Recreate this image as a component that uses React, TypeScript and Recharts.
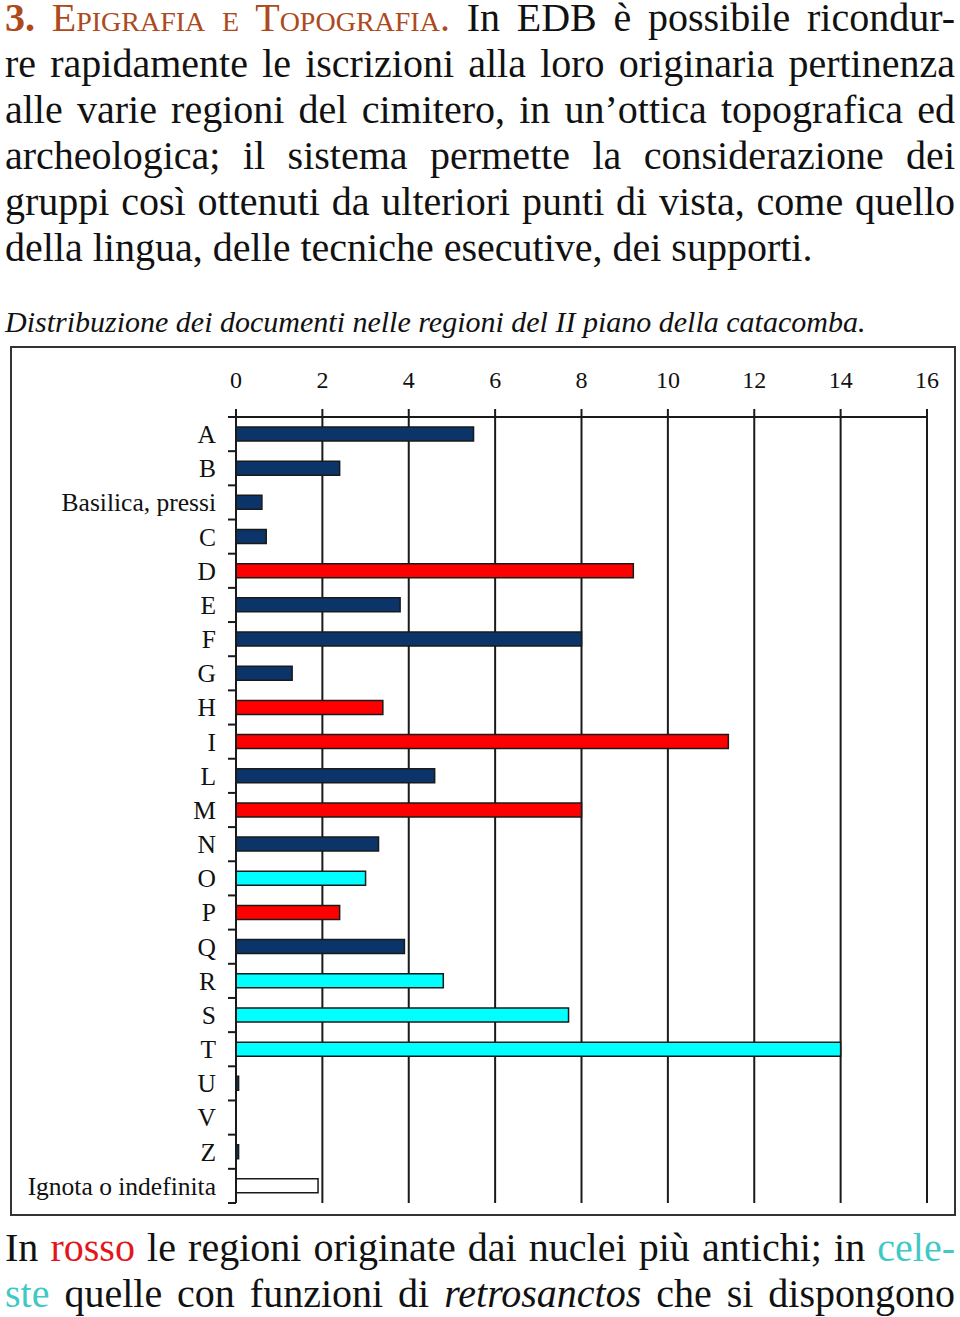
import React from "react";
import { BarChart, Bar, XAxis, YAxis, CartesianGrid, Cell } from "recharts";

// regioni del II piano, dall'alto in basso
const regions = [
  "A", "B", "Basilica, pressi", "C", "D", "E", "F", "G", "H", "I", "L", "M",
  "N", "O", "P", "Q", "R", "S", "T", "U", "V", "Z", "Ignota o indefinita",
];
const documents = [
  5.5, 2.4, 0.6, 0.7, 9.2, 3.8, 8, 1.3, 3.4, 11.4, 4.6, 8,
  3.3, 3.0, 2.4, 3.9, 4.8, 7.7, 14, 0.06, 0, 0.06, 1.9,
];
// n = normale, r = nuclei antichi, c = retrosanctos, x = ignota
const groups = [
  "n", "n", "n", "n", "r", "n", "n", "n", "r", "r", "n", "r",
  "n", "c", "r", "n", "c", "c", "c", "n", "n", "n", "x",
];
const xTicks = [0, 2, 4, 6, 8, 10, 12, 14, 16];

const groupColor: Record<string, string> = {
  n: "#0b3468",
  r: "#ff0000",
  c: "#00ffff",
  x: "#ffffff",
};

const data = regions.map((name, i) => ({ name, value: documents[i], group: groups[i] }));

const serif = "'Liberation Serif', 'Times New Roman', serif";
const ink = "#1a1a1a";

const RegionTick = (props: any) => {
  const { x, y, payload, index } = props;
  const half = payload.offset ?? 17;
  return (
    <g>
      <text x={x} y={y} dy="0.35em" textAnchor="end" fontSize={25.5} fontFamily={serif} fill="#111">
        {payload.value}
      </text>
      {index === 0 && (
        <line x1={x + 12} x2={x + 20} y1={y - half} y2={y - half} stroke={ink} strokeWidth={2} />
      )}
      <line x1={x + 12} x2={x + 20} y1={y + half} y2={y + half} stroke={ink} strokeWidth={2} />
    </g>
  );
};

const line: React.CSSProperties = {
  whiteSpace: "nowrap",
  textAlign: "justify",
  textAlignLast: "justify",
  height: 46,
};

const brown = "#ad4a1c";

export default function App() {
  return (
    <div style={{ position: "relative", width: 960, height: 1317, fontFamily: serif, color: "#111", overflow: "hidden" }}>
      <style>{`body{margin:0}`}</style>

      <div style={{ position: "absolute", left: 5, top: -5, width: 950, fontSize: 40, lineHeight: "46px" }}>
        <div style={line}>
          <span style={{ color: brown, fontWeight: "bold" }}>3.</span>{" "}
          <span style={{ color: brown, fontVariant: "small-caps" }}>Epigrafia e Topografia.</span> In EDB è
          possibile ricondur-
        </div>
        <div style={line}>re rapidamente le iscrizioni alla loro originaria pertinenza</div>
        <div style={line}>alle varie regioni del cimitero, in un’ottica topografica ed</div>
        <div style={line}>archeologica; il sistema permette la considerazione dei</div>
        <div style={line}>gruppi così ottenuti da ulteriori punti di vista, come quello</div>
        <div style={{ ...line, textAlign: "left", textAlignLast: "left" }}>
          della lingua, delle tecniche esecutive, dei supporti.
        </div>
      </div>

      <div
        style={{
          position: "absolute",
          left: 5,
          top: 304,
          fontSize: 30,
          lineHeight: "36px",
          fontStyle: "italic",
          whiteSpace: "nowrap",
        }}
      >
        Distribuzione dei documenti nelle regioni del II piano della catacomba.
      </div>

      <div
        style={{
          position: "absolute",
          left: 10,
          top: 346,
          width: 946,
          height: 870,
          border: "2px solid #333",
          boxSizing: "border-box",
        }}
      />

      <div style={{ position: "absolute", left: 10, top: 346 }}>
        <BarChart
          width={946}
          height={870}
          data={data}
          layout="vertical"
          margin={{ top: 0, right: 29, bottom: 13, left: 0 }}
          barSize={14}
        >
          <CartesianGrid horizontal={false} stroke={ink} strokeWidth={2} />
          <XAxis
            type="number"
            orientation="top"
            domain={[0, 16]}
            ticks={xTicks}
            interval={0}
            height={71}
            tickSize={8}
            tickMargin={21}
            axisLine={{ stroke: ink, strokeWidth: 2 }}
            tickLine={{ stroke: ink, strokeWidth: 2 }}
            tick={{ fill: "#111", fontSize: 24, fontFamily: serif }}
          />
          <XAxis
            xAxisId="b"
            type="number"
            orientation="bottom"
            domain={[0, 16]}
            height={0}
            tick={false}
            tickLine={false}
            axisLine={{ stroke: ink, strokeWidth: 2 }}
          />
          <YAxis
            type="category"
            dataKey="name"
            width={226}
            interval={0}
            tickSize={8}
            tickMargin={12}
            tickLine={false}
            axisLine={{ stroke: ink, strokeWidth: 2 }}
            tick={<RegionTick />}
          />
          <Bar dataKey="value" isAnimationActive={false} stroke={ink} strokeWidth={1.5}>
            {data.map((d, i) => (
              <Cell key={i} fill={groupColor[d.group]} />
            ))}
          </Bar>
        </BarChart>
      </div>

      <div style={{ position: "absolute", left: 5, top: 1225, width: 950, fontSize: 40, lineHeight: "46px" }}>
        <div style={line}>
          In <span style={{ color: "#e3161b" }}>rosso</span> le regioni originate dai nuclei più antichi; in{" "}
          <span style={{ color: "#3fc9c6" }}>cele-</span>
        </div>
        <div style={line}>
          <span style={{ color: "#3fc9c6" }}>ste</span> quelle con funzioni di <i>retrosanctos</i> che si dispongono
        </div>
      </div>
    </div>
  );
}
